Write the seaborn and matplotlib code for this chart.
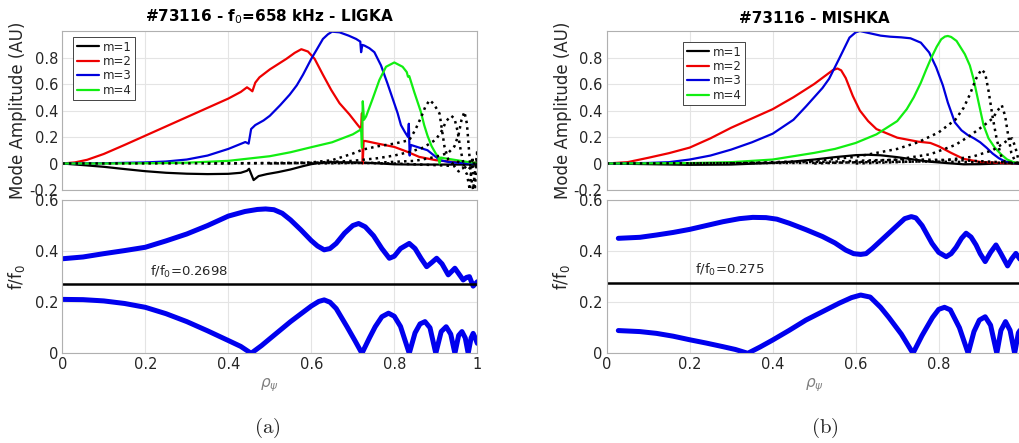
import matplotlib
matplotlib.use("Agg")
import matplotlib.pyplot as plt
from matplotlib.lines import Line2D
from matplotlib.ticker import FuncFormatter
import seaborn as sns

sns.set_style("white")
plt.rcParams["font.family"] = ["DejaVu Sans"]
plt.rcParams["mathtext.fontset"] = "dejavusans"

# ---------------- LIGKA: poloidal harmonics of the eigenmode ----------------
lig_rho_m1 = [0, 0.05, 0.1, 0.15, 0.2, 0.25, 0.3, 0.35, 0.4, 0.43, 0.445, 0.45, 0.461,
              0.473, 0.493, 0.52, 0.55, 0.58, 0.6, 0.62, 0.65, 0.7, 0.75, 0.8, 0.85, 0.9, 0.95, 1.0]
lig_amp_m1 = [0, -0.012, -0.025, -0.042, -0.058, -0.07, -0.077, -0.08, -0.078, -0.07, -0.055, -0.04,
              -0.125, -0.095, -0.08, -0.065, -0.045, -0.02, -0.005, 0.005, 0.01, 0.008, 0.003, -0.006,
              -0.008, -0.008, -0.008, -0.008]

lig_rho_m2 = [0, 0.03, 0.06, 0.1, 0.15, 0.2, 0.25, 0.3, 0.35, 0.4, 0.43, 0.445, 0.452, 0.458, 0.465,
              0.475, 0.5, 0.52, 0.54, 0.56, 0.576, 0.592, 0.608, 0.628, 0.648, 0.668, 0.692, 0.712,
              0.72, 0.722, 0.724, 0.726, 0.73, 0.76, 0.8, 0.83, 0.86, 0.9, 0.95, 1.0]
lig_amp_m2 = [0, 0.008, 0.028, 0.072, 0.14, 0.21, 0.28, 0.35, 0.42, 0.49, 0.54, 0.575, 0.56, 0.545,
              0.61, 0.65, 0.71, 0.75, 0.79, 0.835, 0.8625, 0.845, 0.79, 0.67, 0.555, 0.455, 0.37,
              0.29, 0.26, 0.38, 0.0, 0.17, 0.17, 0.15, 0.125, 0.09, 0.05, 0.025, 0.01, 0.005]

lig_rho_m3 = [0, 0.1, 0.15, 0.2, 0.25, 0.3, 0.35, 0.4, 0.441, 0.449, 0.455, 0.465, 0.485, 0.5, 0.525,
              0.548, 0.565, 0.58, 0.6, 0.615, 0.628, 0.64, 0.65, 0.668, 0.69, 0.708, 0.718, 0.72,
              0.723, 0.728, 0.74, 0.752, 0.768, 0.784, 0.796, 0.808, 0.816, 0.825, 0.833, 0.835,
              0.837, 0.84, 0.86, 0.88, 0.9, 0.91, 0.93, 0.95, 0.975, 1.0]
lig_amp_m3 = [0, 0.002, 0.005, 0.008, 0.015, 0.03, 0.06, 0.11, 0.162, 0.15, 0.26, 0.29, 0.325, 0.36,
              0.44, 0.52, 0.59, 0.67, 0.79, 0.87, 0.94, 0.975, 0.995, 0.99, 0.965, 0.94, 0.92, 0.84,
              0.895, 0.89, 0.87, 0.84, 0.74, 0.6, 0.49, 0.38, 0.29, 0.24, 0.2, 0.3, 0.06, 0.14,
              0.12, 0.1, 0.05, 0.025, 0.012, 0.006, 0.002, 0.0]

lig_rho_m4 = [0, 0.1, 0.2, 0.3, 0.4, 0.5, 0.55, 0.6, 0.65, 0.7, 0.716, 0.72, 0.722, 0.724, 0.727,
              0.732, 0.748, 0.764, 0.78, 0.8, 0.82, 0.83, 0.833, 0.836, 0.848, 0.864, 0.872, 0.88,
              0.89, 0.9, 0.906, 0.909, 0.912, 0.92, 0.94, 0.96, 0.98, 1.0]
lig_amp_m4 = [0, 0.0, 0.002, 0.006, 0.02, 0.055, 0.085, 0.123, 0.16, 0.22, 0.25, 0.26, 0.12, 0.47,
              0.33, 0.355, 0.49, 0.63, 0.73, 0.7625, 0.73, 0.69, 0.655, 0.66, 0.54, 0.39, 0.29, 0.21,
              0.13, 0.075, 0.05, 0.0, 0.045, 0.04, 0.03, 0.02, 0.01, 0.005]

# higher harmonics (dotted)
lig_rho_d1 = [0.35, 0.45, 0.55, 0.6, 0.65, 0.7, 0.724, 0.76, 0.8, 0.836, 0.85, 0.865, 0.875, 0.885,
              0.895, 0.909, 0.921, 0.93, 0.94, 0.95, 0.96, 0.975, 1.0]
lig_amp_d1 = [0, 0.002, 0.004, 0.008, 0.025, 0.075, 0.105, 0.13, 0.15, 0.176, 0.25, 0.352, 0.43,
              0.478, 0.45, 0.377, 0.126, 0.03, 0.0, 0.02, 0.0, -0.02, 0.0]
lig_rho_d2 = [0.5, 0.6, 0.7, 0.76, 0.8, 0.84, 0.87, 0.9, 0.915, 0.925, 0.937, 0.945, 0.952, 0.96,
              0.968, 0.978, 0.99, 1.0]
lig_amp_d2 = [0, 0.005, 0.02, 0.04, 0.06, 0.09, 0.12, 0.18, 0.25, 0.32, 0.36, 0.34, 0.25, 0.1,
              -0.02, -0.05, 0.0, 0.0]
lig_rho_d3 = [0.6, 0.75, 0.85, 0.9, 0.93, 0.945, 0.955, 0.962, 0.969, 0.975, 0.98, 0.985, 0.99,
              0.995, 1.0]
lig_amp_d3 = [0, 0.005, 0.02, 0.05, 0.08, 0.13, 0.22, 0.33, 0.39, 0.3, 0.1, -0.1, -0.2, -0.05, 0.1]
lig_rho_d4 = [0, 0.3, 0.5, 0.7, 0.8, 0.88, 0.92, 0.945, 0.955, 0.965, 0.975, 0.982, 0.988, 0.994, 1.0]
lig_amp_d4 = [0, 0.001, 0.003, 0.005, 0.0, -0.01, -0.015, -0.02, -0.06, -0.03, -0.08, -0.2, 0.05,
              -0.2, 0.08]

# ---------------- MISHKA: poloidal harmonics ----------------
mis_rho_m1 = [0, 0.1, 0.2, 0.3, 0.4, 0.45, 0.5, 0.55, 0.6, 0.63, 0.66, 0.7, 0.74, 0.78, 0.82, 0.86,
              0.9, 0.95, 1.0]
mis_amp_m1 = [0, -0.005, -0.01, -0.008, 0.005, 0.015, 0.03, 0.048, 0.063, 0.066, 0.062, 0.048,
              0.03, 0.013, 0.003, -0.006, -0.005, 0.0, 0.0]

mis_rho_m2 = [0, 0.05, 0.1, 0.15, 0.2, 0.25, 0.3, 0.35, 0.4, 0.45, 0.5, 0.53, 0.545, 0.556, 0.565,
              0.576, 0.593, 0.61, 0.63, 0.65, 0.7, 0.75, 0.78, 0.8, 0.83, 0.86, 0.9, 0.95, 1.0]
mis_amp_m2 = [0, 0.01, 0.043, 0.078, 0.12, 0.19, 0.27, 0.34, 0.41, 0.5, 0.6, 0.67, 0.705, 0.717,
              0.703, 0.645, 0.51, 0.4, 0.32, 0.26, 0.195, 0.165, 0.155, 0.13, 0.08, 0.035, 0.012,
              0.004, 0.0]

mis_rho_m3 = [0, 0.1, 0.15, 0.2, 0.25, 0.3, 0.35, 0.4, 0.45, 0.48, 0.5, 0.52, 0.536, 0.56, 0.585,
              0.6, 0.61, 0.634, 0.66, 0.683, 0.71, 0.732, 0.757, 0.777, 0.794, 0.81, 0.822, 0.839,
              0.855, 0.87, 0.885, 0.9, 0.915, 0.93, 0.945, 0.96, 0.98, 1.0]
mis_amp_m3 = [0, 0.004, 0.01, 0.03, 0.06, 0.105, 0.16, 0.225, 0.33, 0.43, 0.5, 0.57, 0.64, 0.79,
              0.95, 0.99, 1.0, 0.983, 0.965, 0.957, 0.952, 0.945, 0.912, 0.838, 0.725, 0.59, 0.46,
              0.31, 0.25, 0.215, 0.19, 0.16, 0.12, 0.075, 0.04, 0.015, 0.003, 0.0]

mis_rho_m4 = [0, 0.2, 0.3, 0.4, 0.5, 0.55, 0.6, 0.65, 0.7, 0.723, 0.74, 0.757, 0.77, 0.781, 0.795,
              0.806, 0.815, 0.822, 0.83, 0.843, 0.863, 0.875, 0.884, 0.896, 0.908, 0.92, 0.935, 0.95,
              0.965, 0.98, 1.0]
mis_amp_m4 = [0, 0.003, 0.01, 0.03, 0.08, 0.11, 0.155, 0.22, 0.32, 0.41, 0.5, 0.61, 0.71, 0.79,
              0.88, 0.9375, 0.958, 0.9625, 0.955, 0.925, 0.825, 0.74, 0.6375, 0.4625, 0.29, 0.19,
              0.12, 0.07, 0.03, 0.01, 0.0]

mis_rho_d1 = [0.3, 0.5, 0.6, 0.7, 0.75, 0.8, 0.84, 0.86, 0.875, 0.89, 0.903, 0.912, 0.92, 0.93,
              0.94, 0.95, 0.96, 1.0]
mis_amp_d1 = [0, 0.02, 0.05, 0.11, 0.16, 0.235, 0.33, 0.42, 0.52, 0.64, 0.71, 0.68, 0.55, 0.35,
              0.18, 0.06, 0.01, 0.0]
mis_rho_d2 = [0.5, 0.6, 0.7, 0.78, 0.84, 0.874, 0.91, 0.93, 0.942, 0.952, 0.96, 0.967, 0.975,
              0.985, 1.0]
mis_amp_d2 = [0.0, 0.01, 0.03, 0.07, 0.14, 0.207, 0.29, 0.34, 0.4, 0.44, 0.36, 0.22, 0.08, 0.01, 0.0]
mis_rho_d3 = [0.6, 0.8, 0.88, 0.93, 0.955, 0.968, 0.977, 0.985, 0.992, 1.0]
mis_amp_d3 = [0, 0.02, 0.05, 0.1, 0.15, 0.18, 0.19, 0.12, 0.03, 0.0]
mis_rho_d4 = [0, 0.3, 0.5, 0.65, 0.75, 0.85, 0.95, 1.0]
mis_amp_d4 = [0, 0.002, 0.005, 0.01, 0.015, 0.012, 0.005, 0]
mis_rho_d5 = [0.2, 0.4, 0.55, 0.65, 0.75, 0.85, 0.95, 1.0]
mis_amp_d5 = [0, 0.005, 0.015, 0.025, 0.03, 0.025, 0.01, 0]

# ---------------- shear Alfven continuum (f/f0) ----------------
lig_f0_ratio = 0.2698
mis_f0_ratio = 0.275

lig_rho_up = [0, 0.05, 0.1, 0.15, 0.2, 0.25, 0.3, 0.35, 0.4, 0.44, 0.47, 0.49, 0.51, 0.53, 0.55,
              0.575, 0.6, 0.615, 0.631, 0.645, 0.66, 0.68, 0.7, 0.714, 0.73, 0.75, 0.77, 0.788,
              0.8, 0.815, 0.836, 0.85, 0.865, 0.878, 0.89, 0.902, 0.915, 0.93, 0.946, 0.956,
              0.966, 0.974, 0.981, 0.99, 1.0]
lig_f_up = [0.37, 0.377, 0.39, 0.402, 0.415, 0.44, 0.467, 0.5, 0.537, 0.555, 0.563, 0.565, 0.562,
            0.548, 0.522, 0.483, 0.441, 0.42, 0.405, 0.41, 0.43, 0.47, 0.5, 0.508, 0.495, 0.46,
            0.41, 0.372, 0.38, 0.41, 0.43, 0.41, 0.37, 0.339, 0.355, 0.372, 0.35, 0.307, 0.333,
            0.31, 0.287, 0.297, 0.3, 0.263, 0.28]

lig_rho_lo = [0, 0.05, 0.1, 0.15, 0.2, 0.25, 0.3, 0.35, 0.4, 0.43, 0.455, 0.48, 0.5, 0.55, 0.6,
              0.618, 0.631, 0.645, 0.66, 0.686, 0.705, 0.722, 0.74, 0.754, 0.77, 0.786, 0.8,
              0.815, 0.836, 0.85, 0.862, 0.874, 0.886, 0.9, 0.913, 0.925, 0.936, 0.946, 0.955,
              0.963, 0.971, 0.978, 0.985, 0.99, 0.995, 1.0]
lig_f_lo = [0.211, 0.21, 0.205, 0.195, 0.18, 0.155, 0.124, 0.088, 0.05, 0.027, 0.0, 0.03, 0.057,
            0.124, 0.185, 0.203, 0.209, 0.2, 0.175, 0.104, 0.05, 0.0, 0.06, 0.104, 0.143, 0.157,
            0.145, 0.105, 0.0, 0.08, 0.115, 0.124, 0.1, 0.0, 0.085, 0.104, 0.075, 0.0, 0.07,
            0.085, 0.06, 0.0, 0.06, 0.078, 0.06, 0.039]

mis_rho_up = [0.028, 0.08, 0.12, 0.16, 0.2, 0.24, 0.28, 0.32, 0.352, 0.384, 0.41, 0.44, 0.48,
              0.52, 0.55, 0.576, 0.595, 0.612, 0.625, 0.64, 0.66, 0.68, 0.7, 0.718, 0.734, 0.745,
              0.76, 0.784, 0.8, 0.818, 0.83, 0.842, 0.855, 0.866, 0.878, 0.89, 0.9, 0.912, 0.925,
              0.938, 0.95, 0.966, 0.976, 0.986, 0.995, 1.0]
mis_f_up = [0.45, 0.454, 0.463, 0.473, 0.485, 0.5, 0.515, 0.527, 0.532, 0.531, 0.525, 0.509,
            0.484, 0.457, 0.432, 0.404, 0.39, 0.387, 0.39, 0.41, 0.44, 0.47, 0.5, 0.527, 0.535,
            0.53, 0.5, 0.43, 0.395, 0.378, 0.39, 0.415, 0.45, 0.47, 0.455, 0.424, 0.39, 0.359,
            0.395, 0.424, 0.39, 0.342, 0.37, 0.391, 0.37, 0.36]

mis_rho_lo = [0.028, 0.08, 0.12, 0.16, 0.2, 0.24, 0.28, 0.31, 0.34, 0.37, 0.4, 0.44, 0.48, 0.52,
              0.56, 0.59, 0.612, 0.635, 0.66, 0.68, 0.71, 0.738, 0.76, 0.785, 0.8, 0.814, 0.828,
              0.85, 0.871, 0.885, 0.898, 0.912, 0.925, 0.94, 0.95, 0.961, 0.972, 0.983, 0.992, 1.0]
mis_f_lo = [0.089, 0.085, 0.078, 0.067, 0.053, 0.04, 0.026, 0.015, 0.0, 0.025, 0.052, 0.09, 0.13,
            0.163, 0.196, 0.218, 0.228, 0.22, 0.18, 0.14, 0.075, 0.0, 0.07, 0.14, 0.172, 0.18,
            0.17, 0.1, 0.0, 0.085, 0.13, 0.143, 0.11, 0.0, 0.09, 0.124, 0.09, 0.0, 0.08, 0.1]

harmonic_labels = ["m=1", "m=2", "m=3", "m=4"]
harmonic_colors = ["black", "#ee0000", "#0000dd", "#11ee11"]
rho_ticks = [0, 0.2, 0.4, 0.6, 0.8, 1.0]
amp_ticks = [-0.2, 0, 0.2, 0.4, 0.6, 0.8]
freq_ticks = [0, 0.2, 0.4, 0.6]

W, H = 1020, 443
fig = plt.figure(figsize=(W / 100, H / 100), dpi=100)


def axes_px(x0, y0, x1, y1):
    return fig.add_axes([x0 / W, 1 - y1 / H, (x1 - x0) / W, (y1 - y0) / H])


fmt = FuncFormatter(lambda v, p: f"{v:g}")


def style(ax, yticks, ylim, show_x):
    ax.set_xlim(0, 1)
    ax.set_ylim(*ylim)
    ax.set_xticks(rho_ticks)
    ax.set_yticks(yticks)
    ax.xaxis.set_major_formatter(fmt)
    ax.yaxis.set_major_formatter(fmt)
    ax.grid(True, color="#e4e4e4", lw=0.8)
    ax.set_axisbelow(True)
    for s in ax.spines.values():
        s.set_visible(True)
        s.set_color("#b0b0b0")
        s.set_linewidth(0.8)
    ax.tick_params(direction="in", length=3, width=0.6, color="#b0b0b0",
                   labelsize=10.5, labelcolor="#262626", pad=3)
    ax.tick_params(labelbottom=show_x)
    ax.set_xlabel("")
    ax.set_ylabel("")


def draw(ax, rho, val, color, lw, ls="-"):
    sns.lineplot(x=rho, y=val, ax=ax, color=color, lw=lw, linestyle=ls,
                 sort=False, estimator=None)


def mode_panel(ax, solid, dotted, title, legend_anchor):
    for (r, a), c in zip(solid, harmonic_colors):
        draw(ax, r, a, c, 1.6)
    for r, a in dotted:
        draw(ax, r, a, "black", 1.8, ":")
    style(ax, amp_ticks, (-0.2, 1.0), False)
    ax.set_ylabel("Mode Amplitude (AU)", fontsize=12, color="#262626")
    ax.yaxis.set_label_coords(-0.084, 0.5)
    handles = [Line2D([], [], color=c, lw=1.6) for c in harmonic_colors]
    leg = ax.legend(handles, harmonic_labels, loc="upper left", bbox_to_anchor=legend_anchor,
                    borderaxespad=0, fontsize=8.5, handlelength=1.9, handletextpad=0.3,
                    borderpad=0.3, labelspacing=0.12, fancybox=False, framealpha=1)
    leg.get_frame().set_edgecolor("#262626")
    leg.get_frame().set_linewidth(0.6)
    ax.text(0.5, 1.03, title, transform=ax.transAxes, ha="center", va="bottom",
            fontsize=11, fontweight="bold", color="black")


def continuum_panel(ax, up, lo, ratio, label):
    draw(ax, up[0], up[1], "#0000ee", 3.6)
    draw(ax, lo[0], lo[1], "#0000ee", 3.6)
    ax.axhline(ratio, color="black", lw=1.8)
    style(ax, freq_ticks, (0, 0.6), True)
    ax.text(0.212, ratio + 0.018, label, fontsize=9.5, color="#262626", ha="left", va="bottom")
    ax.set_ylabel(r"f/f$_0$", fontsize=12, color="#262626")
    ax.yaxis.set_label_coords(-0.084, 0.5)
    ax.set_xlabel(r"$\rho_\psi$", fontsize=11, color="#808080", labelpad=3)


# left column: LIGKA
ax_lt = axes_px(62.3, 31, 477.3, 190)
ax_lb = axes_px(62.3, 200, 477.3, 353.3)
mode_panel(ax_lt,
           [(lig_rho_m1, lig_amp_m1), (lig_rho_m2, lig_amp_m2),
            (lig_rho_m3, lig_amp_m3), (lig_rho_m4, lig_amp_m4)],
           [(lig_rho_d1, lig_amp_d1), (lig_rho_d2, lig_amp_d2),
            (lig_rho_d3, lig_amp_d3), (lig_rho_d4, lig_amp_d4)],
           r"#73116 - f$_0$=658 kHz - LIGKA", (0.026, 0.962))
continuum_panel(ax_lb, (lig_rho_up, lig_f_up), (lig_rho_lo, lig_f_lo),
                lig_f0_ratio, r"f/f$_0$=" + f"{lig_f0_ratio:g}")

# right column: MISHKA
ax_rt = axes_px(606.7, 31, 1021.7, 190)
ax_rb = axes_px(606.7, 200, 1021.7, 353.3)
mode_panel(ax_rt,
           [(mis_rho_m1, mis_amp_m1), (mis_rho_m2, mis_amp_m2),
            (mis_rho_m3, mis_amp_m3), (mis_rho_m4, mis_amp_m4)],
           [(mis_rho_d1, mis_amp_d1), (mis_rho_d2, mis_amp_d2), (mis_rho_d3, mis_amp_d3),
            (mis_rho_d4, mis_amp_d4), (mis_rho_d5, mis_amp_d5)],
           "#73116 - MISHKA", (0.184, 0.931))
continuum_panel(ax_rb, (mis_rho_up, mis_f_up), (mis_rho_lo, mis_f_lo),
                mis_f0_ratio, r"f/f$_0$=" + f"{mis_f0_ratio:g}")

# sub-figure captions
fig.text(267 / W, 1 - 428 / H, r"$\mathrm{(a)}$", ha="center", va="center",
         fontsize=15, math_fontfamily="cm")
fig.text(825 / W, 1 - 428 / H, r"$\mathrm{(b)}$", ha="center", va="center",
         fontsize=15, math_fontfamily="cm")

fig.savefig("out.png", dpi=100)
